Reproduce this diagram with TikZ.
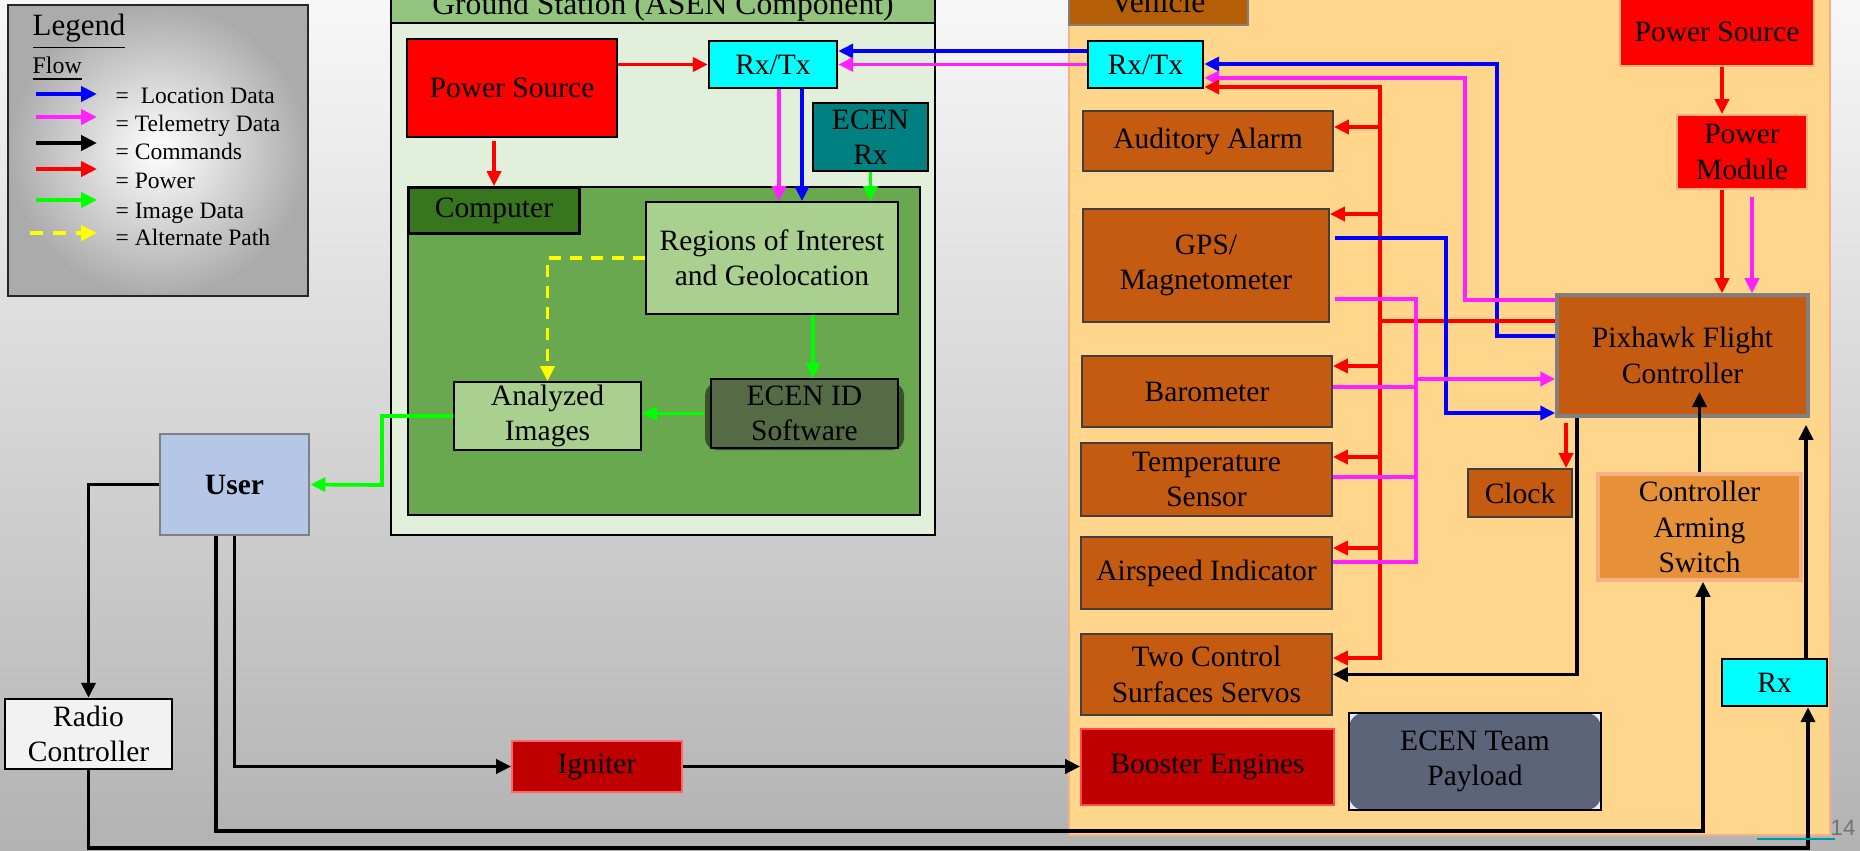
\documentclass[tikz,border=0pt]{standalone}
\usepackage{fontspec}
\setmainfont{Liberation Serif}
\newfontfamily\slidefont{Liberation Sans}
\usetikzlibrary{arrows.meta}

\definecolor{gsback}{HTML}{E2EFDA}
\definecolor{gstitle}{HTML}{93C47D}
\definecolor{compgreen}{HTML}{6AA84F}
\definecolor{comptab}{HTML}{38761D}
\definecolor{lightgreen}{HTML}{A9D08E}
\definecolor{softgreen}{HTML}{556B45}
\definecolor{softshadow}{HTML}{3B5229}
\definecolor{ecenteal}{HTML}{008080}
\definecolor{rxcyan}{RGB}{0,255,255}
\definecolor{usercol}{HTML}{B4C7E7}
\definecolor{rccol}{HTML}{F2F2F2}
\definecolor{darkred}{HTML}{C00000}
\definecolor{vehfill}{HTML}{FFD68C}
\definecolor{vehline}{HTML}{F4B183}
\definecolor{vbrown}{HTML}{C55A11}
\definecolor{vtab}{HTML}{B45F06}
\definecolor{armcol}{HTML}{E69138}
\definecolor{slate}{HTML}{5B6478}
\definecolor{telpink}{HTML}{FF22FF}
\definecolor{imggreen}{HTML}{00FF00}
\definecolor{altyellow}{HTML}{FFFF00}
\definecolor{pageline}{HTML}{0096AA}

\begin{document}
\begin{tikzpicture}[x=0.1mm, y=-0.1mm,
  box/.style={draw=black!80, line width=0.5pt, align=center, inner sep=0pt, font=\fontsize{8.4}{10.1}\selectfont},
  gsbox/.style={box, fill=lightgreen, draw=black},
  vbox/.style={box, fill=vbrown, draw=black!75},
  redbox/.style={box, fill=red, draw=vehline},
  cyanbox/.style={box, fill=rxcyan, draw=black, line width=0.7pt},
  flow/.style={line width=0.37mm, -{Triangle[length=1.5mm, width=1.4mm]}},
  pwrarrow/.style={flow, draw=red},
  locarrow/.style={flow, draw=blue},
  telarrow/.style={flow, draw=telpink},
  cmdarrow/.style={flow, draw=black},
  imgarrow/.style={flow, draw=imggreen},
  altarrow/.style={flow, draw=altyellow, dash pattern=on 1.2mm off 0.9mm},
  link/.style={line width=0.37mm},
  keyarrow/.style={line width=0.42mm, -{Triangle[length=1.6mm, width=1.5mm]}},
  keytext/.style={anchor=base west, inner sep=0pt, font=\fontsize{6.7}{8}\selectfont}
]
\useasboundingbox (0,0) rectangle (1860,851);
\clip (0,0) rectangle (1860,851);
\shade[top color=white!97!black, bottom color=black!30] (0,0) rectangle (1860,851);

\shade[inner color=white, outer color=black!33] (8,5) rectangle (308,296);
\draw[black!85, line width=0.6pt] (8,5) rectangle (308,296);
\node[anchor=base west, inner sep=0pt, font=\fontsize{8.8}{10}\selectfont] (legend) at (32,36) {\underline{Legend}};
\node[anchor=base west, inner sep=0pt, font=\fontsize{6.8}{8}\selectfont] (flow) at (32,74) {\underline{Flow}};
\draw[keyarrow, blue] (36,94) -- (97,94);
\draw[keyarrow, telpink] (36,117) -- (97,117);
\draw[keyarrow, black] (36,143) -- (97,143);
\draw[keyarrow, red] (36,169) -- (97,169);
\draw[keyarrow, imggreen] (36,200) -- (97,200);
\draw[keyarrow, altyellow, dash pattern=on 1.3mm off 1mm] (30,233) -- (97,233);
\node[keytext] (keyloc) at (115,104) {=~ Location Data};
\node[keytext] (keytel) at (115,132) {= Telemetry Data};
\node[keytext] (keycmd) at (115,160) {= Commands};
\node[keytext] (keypwr) at (115,189) {= Power};
\node[keytext] (keyimg) at (115,218) {= Image Data};
\node[keytext] (keyalt) at (115,246) {= Alternate Path};

\draw[black, line width=0.6pt, fill=gsback] (391,-20) rectangle (935,535);
\draw[black, line width=0.6pt, fill=gstitle] (391,-20) rectangle (935,23);
\node[anchor=base, inner sep=0pt, font=\fontsize{9}{10}\selectfont] (gstext) at (663,15) {Ground Station (ASEN Component)};

\node[gsbox, fill=red, minimum width=21mm, minimum height=9.8mm] (gpsrc) at (512,88) {Power Source};
\node[cyanbox, minimum width=12.8mm, minimum height=4.7mm] (grxtx) at (773,64.5) {Rx/Tx};
\node[box, fill=ecenteal, draw=black, minimum width=11.5mm, minimum height=6.8mm] (erx) at (870.5,137) {ECEN\\Rx};
\node[box, fill=compgreen, draw=black, minimum width=51.2mm, minimum height=32.8mm] (comp) at (664,351) {};
\node[box, fill=comptab, draw=black, line width=0.8pt, anchor=north west, minimum width=17.1mm, minimum height=4.6mm] (ctab) at (comp.north west) {Computer};
\node[gsbox, minimum width=25.2mm, minimum height=11.2mm] (roi) at (772,258) {Regions of Interest\\and Geolocation};
\node[gsbox, minimum width=18.7mm, minimum height=6.8mm] (anl) at (547.5,416) {Analyzed\\Images};
\fill[softshadow, rounded corners=1.2mm] (705,383) rectangle (904,450);
\node[gsbox, fill=softgreen, minimum width=18.7mm, minimum height=6.9mm] (ecid) at (804.5,413.5) {ECEN ID\\Software};

\node[box, fill=usercol, draw=black!50, line width=0.8pt, font=\fontsize{8.4}{10.1}\selectfont\bfseries, minimum width=14.9mm, minimum height=10.1mm] (user) at (234.5,484.5) {User};
\node[box, fill=rccol, draw=black, line width=0.7pt, minimum width=16.7mm, minimum height=7mm] (rc) at (88.5,734) {Radio\\Controller};
\node[box, fill=darkred, draw=red!60!white, minimum width=17mm, minimum height=5.1mm] (ign) at (597,766.5) {Igniter};

\draw[vehline, line width=0.6pt, fill=vehfill] (1069,-20) rectangle (1830,835);
\draw[black!50, line width=0.8pt, fill=vtab] (1069,-20) rectangle (1248,25);
\node[anchor=base, inner sep=0pt, font=\fontsize{9}{10}\selectfont] (vehtext) at (1158,13) {Vehicle};

\node[cyanbox, minimum width=11.5mm, minimum height=4.7mm] (vrxtx) at (1145.5,64.5) {Rx/Tx};
\node[redbox, minimum width=19.4mm, minimum height=6.8mm] (vps) at (1717,32) {Power Source};
\node[redbox, minimum width=13mm, minimum height=7.4mm] (pmod) at (1742,152) {Power\\Module};
\node[vbox, minimum width=25mm, minimum height=6mm] (alarm) at (1208,141) {Auditory Alarm};
\node[vbox, minimum width=24.6mm, minimum height=11.3mm] (gpsm) at (1206,265.5) {GPS/\\Magnetometer};
\node[vbox, minimum width=25mm, minimum height=7.1mm] (baro) at (1207,391.5) {Barometer};
\node[vbox, minimum width=25.1mm, minimum height=7.3mm] (temp) at (1206.5,479.5) {Temperature\\Sensor};
\node[vbox, minimum width=25.1mm, minimum height=7.2mm] (airsp) at (1206.5,573) {Airspeed Indicator};
\node[vbox, minimum width=25.1mm, minimum height=8.1mm] (servo) at (1206.5,674.5) {Two Control\\Surfaces Servos};
\node[box, fill=darkred, draw=red!70!white, minimum width=25.3mm, minimum height=7.6mm] (boost) at (1207.5,767) {Booster Engines};
\node[box, draw=black, line width=0.7pt, fill=blue!8!white, minimum width=25.2mm, minimum height=9.7mm,
  path picture={\fill[slate, rounded corners=1.5mm] (path picture bounding box.north west) rectangle (path picture bounding box.south east);}] (payload) at (1475,761.5) {ECEN Team\\Payload};
\node[vbox, minimum width=10.4mm, minimum height=4.8mm] (clock) at (1520,493) {Clock};
\node[vbox, draw=black!50, line width=1pt, minimum width=25.1mm, minimum height=12.1mm] (pix) at (1682.5,355.5) {Pixhawk Flight\\Controller};
\node[box, fill=armcol, draw=vehline, line width=1pt, minimum width=20.3mm, minimum height=10.6mm] (arm) at (1699.5,527) {Controller\\Arming\\Switch};
\node[cyanbox, minimum width=10.5mm, minimum height=4.7mm] (rx) at (1774.5,682.5) {Rx};
\coordinate (pwrbus) at (1380,321);
\coordinate (telbus) at (1416,379);

\draw[pwrarrow] (gpsrc.east |- grxtx.west) -- (grxtx.west);
\draw[pwrarrow] ([yshift=-0.3mm]gpsrc.south -| ctab.north) -- (ctab.north);
\draw[telarrow] (grxtx.south -| 779,0) -- (roi.north -| 779,0);
\draw[locarrow] (grxtx.south -| 802,0) -- (roi.north -| 802,0);
\draw[imgarrow] (erx.south) -- (roi.north -| erx.south);
\draw[imgarrow] (roi.south -| 813,0) -- (ecid.north -| 813,0);
\draw[imgarrow] ([xshift=-0.6mm]ecid.west) -- (anl.east |- ecid.west);
\draw[altarrow] (roi.west) -| (anl.north);
\draw[imgarrow] (anl.west) -| (382,485) -- (user.east);

\draw[locarrow] (vrxtx.west |- 0,51) -- (grxtx.east |- 0,51);
\draw[telarrow] (vrxtx.west) -- (grxtx.east);

\draw[locarrow] (pix.west |- 0,336) -| (1497,64) -- (vrxtx.east |- 0,64);
\draw[telarrow] (pix.west |- 0,300) -| (1465,78) -- (vrxtx.east |- 0,78);
\draw[pwrarrow] (pix.west |- pwrbus) -- (pwrbus) |- (vrxtx.east |- 0,87);
\draw[pwrarrow] (pwrbus) |- (servo.east |- 0,658);
\draw[pwrarrow] (pwrbus |- 0,127) -- (alarm.east |- 0,127);
\draw[pwrarrow] (pwrbus |- 0,214) -- (gpsm.east |- 0,214);
\draw[pwrarrow] (pwrbus |- 0,366) -- (baro.east |- 0,366);
\draw[pwrarrow] (pwrbus |- 0,457) -- (temp.east |- 0,457);
\draw[pwrarrow] (pwrbus |- 0,548) -- (airsp.east |- 0,548);

\draw[locarrow] ([xshift=0.5mm]gpsm.east |- 0,238) -| (1446,413) -- (pix.west |- 0,413);
\draw[link, telpink] ([xshift=0.5mm]gpsm.east |- 0,299) -| (telbus |- 0,562) -- (airsp.east |- 0,562);
\draw[link, telpink] (baro.east |- 0,387) -- (telbus |- 0,387);
\draw[link, telpink] (temp.east |- 0,477) -- (telbus |- 0,477);
\draw[telarrow] (telbus) -- (pix.west |- telbus);

\draw[pwrarrow] (vps.south -| 1722,0) -- (pmod.north -| 1722,0);
\draw[pwrarrow] (pmod.south -| 1722,0) -- (pix.north -| 1722,0);
\draw[telarrow] ([yshift=-0.7mm]pmod.south -| 1752,0) -- (pix.north -| 1752,0);

\draw[cmdarrow] (pix.south -| 1577,0) |- (servo.east);
\draw[pwrarrow] ([yshift=-0.5mm]pix.south -| 1566,0) -- (clock.north -| 1566,0);
\draw[cmdarrow] (arm.north) -- (arm.north |- 0,392);
\draw[cmdarrow, shorten >=0.7mm] (rx.north -| 1806,0) -- (pix.south -| 1806,0);

\draw[cmdarrow] (user.west) -| (rc.north);
\draw[cmdarrow] (user.south) |- (ign.west);
\draw[cmdarrow] (ign.east) -- (boost.west |- ign.east);
\draw[cmdarrow] (user.south -| 216,0) |- (1703,831) -- (arm.south -| 1703,0);
\draw[cmdarrow] (rc.south) |- (1808,848) -- (rx.south -| 1808,0);

\draw[pageline, line width=0.5pt] (1757,839) -- (1835,839);
\node[text=black!55, font=\slidefont\fontsize{6.3}{7}\selectfont, inner sep=0pt] (pagenum) at (1843,828) {14};
\end{tikzpicture}
\end{document}
